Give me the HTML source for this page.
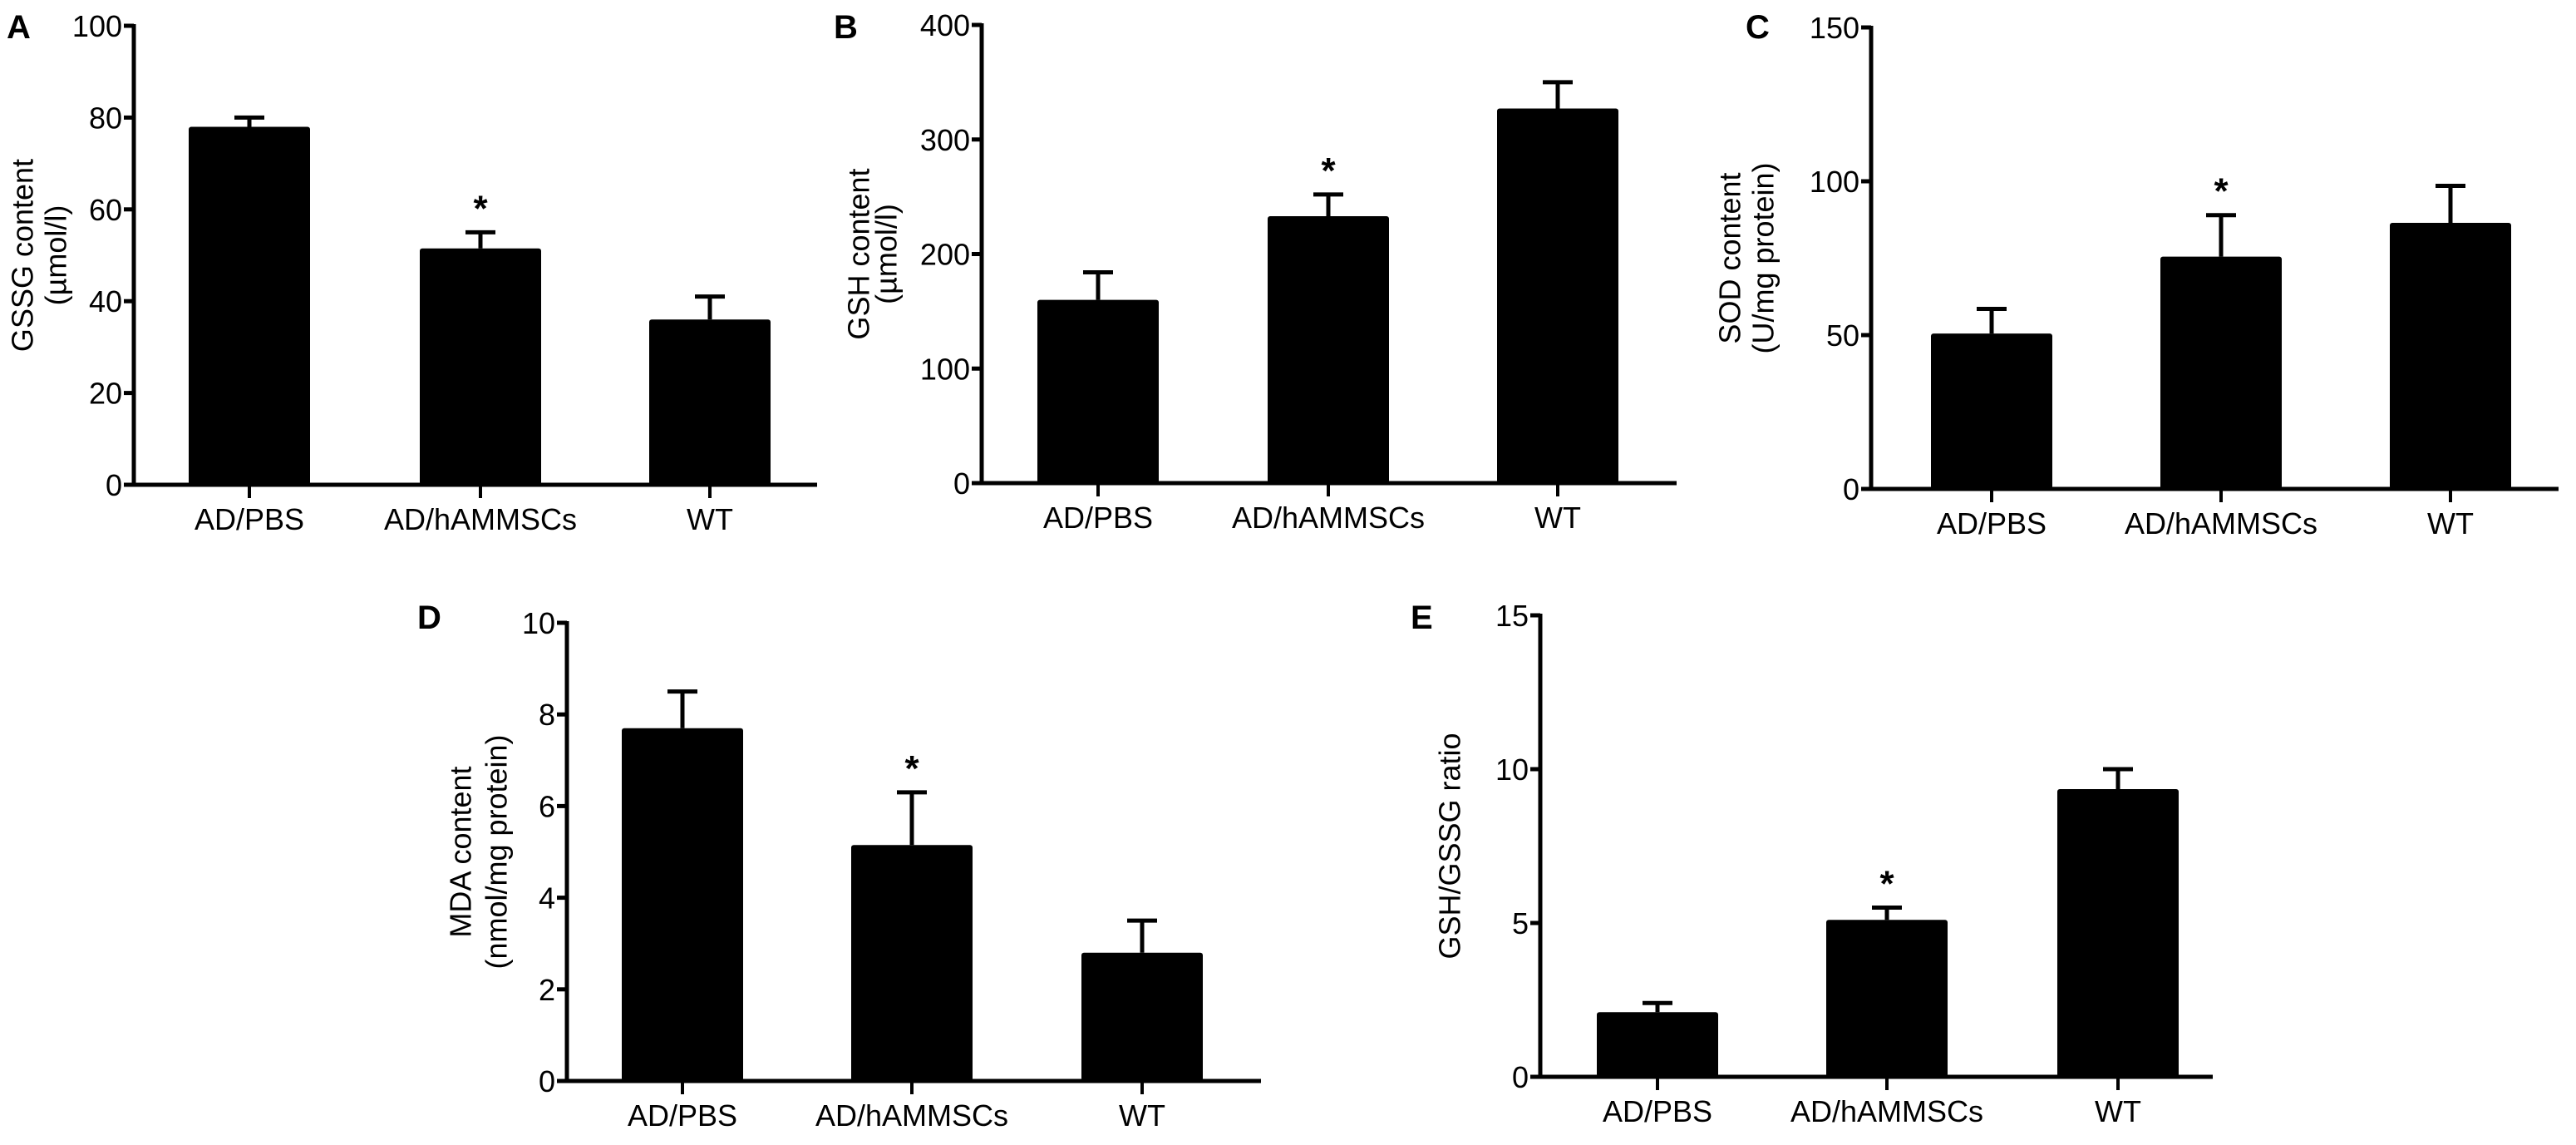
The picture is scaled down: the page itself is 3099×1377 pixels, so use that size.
<!DOCTYPE html>
<html><head><meta charset="utf-8"><style>
html,body{margin:0;padding:0;background:#fff;}
svg{display:block;font-family:"Liberation Sans",Arial,sans-serif;}
</style></head><body>
<svg id="fig" width="3099" height="1377" viewBox="0 0 3099 1377" xmlns="http://www.w3.org/2000/svg"></svg>
<script>
const categories = ["AD/PBS","AD/hAMMSCs","WT"];
const gsshMeans = [78, 51.5, 36];
const gsshErr = [2, 3.5, 5];
const gshMeans = [160, 233, 327];
const gshErr = [24, 19, 23];
const sodMeans = [50.5, 75.5, 86.5];
const sodErr = [8, 13.5, 12];
const mdaMeans = [7.7, 5.15, 2.8];
const mdaErr = [0.8, 1.15, 0.7];
const ratioMeans = [2.1, 5.1, 9.35];
const ratioErr = [0.3, 0.4, 0.65];
const ticksA = [0,20,40,60,80,100];
const ticksB = [0,100,200,300,400];
const ticksC = [0,50,100,150];
const ticksD = [0,2,4,6,8,10];
const ticksE = [0,5,10,15];
const sigFlags = [false,true,false];

const NS="http://www.w3.org/2000/svg";
const svg=document.getElementById('fig');
function mk(tag,attrs,parent){const e=document.createElementNS(NS,tag);for(const k in attrs)e.setAttribute(k,attrs[k]);(parent||svg).appendChild(e);return e;}

const panels=[
 {id:'a',letter:'A',lx:8,ly:46,ax:161,x1:983,y0:583,yTop:31,max:100,ticks:ticksA,means:gsshMeans,err:gsshErr,centers:[300,578,854],title:["GSSG content","(µmol/l)"],tx:[27,67]},
 {id:'b',letter:'B',lx:1003,ly:46,ax:1181,x1:2017,y0:581,yTop:30,max:400,ticks:ticksB,means:gshMeans,err:gshErr,centers:[1321,1598,1874],title:["GSH content","(µmol/l)"],tx:[1033,1066]},
 {id:'c',letter:'C',lx:2100,ly:46,ax:2251,x1:3078,y0:588,yTop:33,max:150,ticks:ticksC,means:sodMeans,err:sodErr,centers:[2396,2672,2948],title:["SOD content","(U/mg protein)"],tx:[2081,2121]},
 {id:'d',letter:'D',lx:502,ly:756,ax:682,x1:1517,y0:1300,yTop:749,max:10,ticks:ticksD,means:mdaMeans,err:mdaErr,centers:[821,1097,1374],title:["MDA content","(nmol/mg protein)"],tx:[554,597]},
 {id:'e',letter:'E',lx:1697,ly:756,ax:1853,x1:2662,y0:1295,yTop:740,max:15,ticks:ticksE,means:ratioMeans,err:ratioErr,centers:[1994,2270,2548],title:["GSH/GSSG ratio"],tx:[1744]}
];

panels.forEach(p=>{
  const g=mk('g',{});
  
  
  const y=v=>p.y0-(v/p.max)*(p.y0-p.yTop);
  const bw=146;
  const lt=mk('text',{x:p.lx,y:p.ly,'font-size':40,'font-weight':'bold',fill:'#000'},g);
  lt.textContent=p.letter;
  
  
  // bars
  p.means.forEach((m,i)=>{
    const cx=p.centers[i];
    const r=mk('rect',{x:cx-bw/2,y:y(m),width:bw,height:p.y0-y(m),rx:3,fill:'#000'},g);
    
    
    const top=y(m+p.err[i]);
    const eb=mk('path',{d:`M${cx},${y(m)} V${top} M${cx-18},${top} H${cx+18}`,stroke:'#000','stroke-width':5,fill:'none'},g);
    
    
    if(sigFlags[i]){
      const s=mk('text',{x:cx,y:top-14,'font-size':44,'font-weight':'bold','text-anchor':'middle',fill:'#000'},g);
      s.textContent='*';
      
      
    }
    const tk=mk('line',{x1:cx,y1:p.y0,x2:cx,y2:p.y0+16,stroke:'#000','stroke-width':4},g);
    
    
    const cl=mk('text',{x:cx,y:p.y0+54,'font-size':36,'text-anchor':'middle',fill:'#000'},g);
    cl.textContent=categories[i];
    
    
  });
  // axes
  const ya=mk('line',{x1:p.ax,y1:p.yTop-2,x2:p.ax,y2:p.y0+2,stroke:'#000','stroke-width':5},g);
  
  
  const xa=mk('line',{x1:p.ax-12,y1:p.y0,x2:p.x1,y2:p.y0,stroke:'#000','stroke-width':5},g);
  
  
  p.ticks.forEach(t=>{
    const ty=y(t);
    const tl=mk('line',{x1:p.ax-12,y1:ty,x2:p.ax,y2:ty,stroke:'#000','stroke-width':5},g);
    
    
    const tt=mk('text',{x:p.ax-14,y:ty+13,'font-size':36,'text-anchor':'end',fill:'#000'},g);
    tt.textContent=t;
    
    
  });
  const midY=(p.y0+p.yTop)/2;
  p.title.forEach((line,k)=>{
    const tx=p.tx[k];
    const tt=mk('text',{x:tx,y:midY,'font-size':36,'text-anchor':'middle','dominant-baseline':'central',transform:`rotate(-90 ${tx} ${midY})`,fill:'#000'},g);
    tt.textContent=line;
    
    
  });
});
</script>
</body></html>
